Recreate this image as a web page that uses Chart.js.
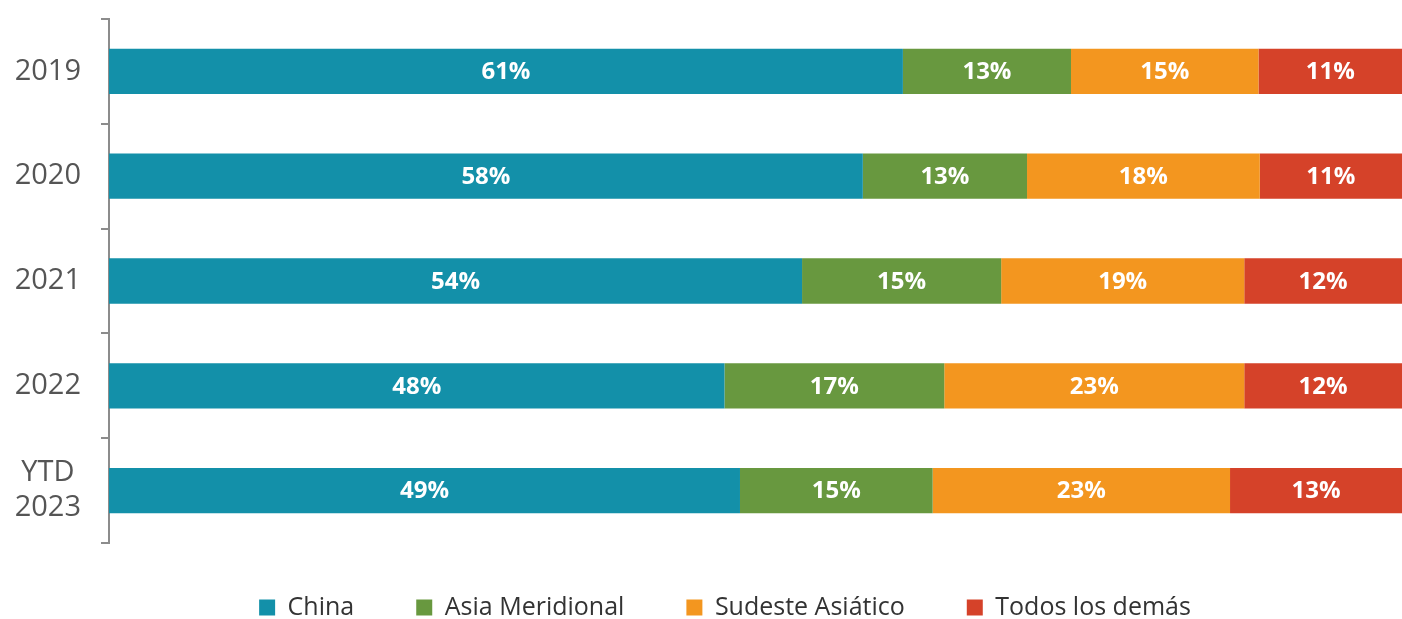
<!DOCTYPE html>
<html>
<head>
<meta charset="utf-8">
<script src="https://cdn.jsdelivr.net/npm/chart.js@4"></script>
<style>
  html, body { margin: 0; padding: 0; background: #fff; }
  #wrap { width: 1402px; height: 619px; }
</style>
</head>
<body>
<div id="wrap"><canvas id="Wykres_1"></canvas></div>
<script>
// categories
const years = ['2019', '2020', '2021', '2022', ['YTD', '2023']];

// share of each region per year (%)
const china = [61.4, 58.3, 53.6, 47.6, 48.8];
const asiaMeridional = [13.0, 12.7, 15.4, 17.0, 14.9];
const sudesteAsiatico = [14.5, 18.0, 18.8, 23.2, 23.0];
const todosLosDemas = [11.1, 11.0, 12.2, 12.2, 13.3];

const seriesNames = ['China', 'Asia Meridional', 'Sudeste Asiático', 'Todos los demás'];
const seriesColors = ['#1390a9', '#68983f', '#f3961f', '#d54229'];

const fontName = "'Open Sans', sans-serif";

// white % labels in the middle of each segment
const barLabels = {
    id: 'barLabels',
    afterDatasetsDraw(chart) {
        const ctx = chart.ctx;
        ctx.save();
        ctx.fillStyle = '#ffffff';
        ctx.font = 'bold 24px ' + fontName;
        ctx.textAlign = 'center';
        ctx.textBaseline = 'middle';
        chart.data.datasets.forEach(function(ds, i) {
            const meta = chart.getDatasetMeta(i);
            meta.data.forEach(function(bar, j) {
                const p = bar.getCenterPoint();
                ctx.fillText(Math.round(ds.data[j]) + '%', p.x, p.y + 1);
            });
        });
        ctx.restore();
    }
};

// legend padding is big (for the gaps), so pull its top up a bit
// and nudge it right to sit where the original one is
const legendShift = {
    id: 'legendShift',
    afterLayout(chart) {
        if (chart.legend) {
            chart.legend.top -= 10;
            chart.legend.left += 24;
            chart.legend.right += 24;
        }
    }
};

const datasets = [china, asiaMeridional, sudesteAsiatico, todosLosDemas].map(function(values, i) {
    return {
        label: seriesNames[i],
        data: values,
        backgroundColor: seriesColors[i],
        borderWidth: 0,
        categoryPercentage: 1,
        barPercentage: 0.432
    };
});

const ctx = document.getElementById('Wykres_1').getContext('2d');
new Chart(ctx, {
    type: 'bar',
    data: {
        labels: years,
        datasets: datasets
    },
    options: {
        indexAxis: 'y',
        responsive: true,
        maintainAspectRatio: false,
        animation: false,
        layout: {
            padding: { top: 19, right: 0, bottom: 0, left: 0 }
        },
        scales: {
            x: {
                stacked: true,
                display: false,
                min: 0,
                max: 100
            },
            y: {
                stacked: true,
                afterFit: function(scale) {
                    scale.width = 109;
                    scale.paddingTop = 0;
                    scale.paddingBottom = 0;
                },
                border: { display: true, color: '#8c8c8c', width: 2 },
                grid: {
                    drawOnChartArea: false,
                    drawTicks: true,
                    tickLength: 8,
                    color: '#8c8c8c',
                    lineWidth: 2
                },
                ticks: {
                    crossAlign: 'center',
                    padding: 20,
                    color: '#555555',
                    font: { family: fontName, size: 29, weight: '500' }
                }
            }
        },
        plugins: {
            legend: {
                display: true,
                position: 'bottom',
                maxHeight: 76,
                labels: {
                    boxWidth: 16,
                    boxHeight: 16,
                    padding: 62,
                    color: '#333333',
                    font: { family: fontName, size: 25 }
                }
            },
            tooltip: { enabled: false }
        }
    },
    plugins: [barLabels, legendShift]
});
</script>
</body>
</html>
